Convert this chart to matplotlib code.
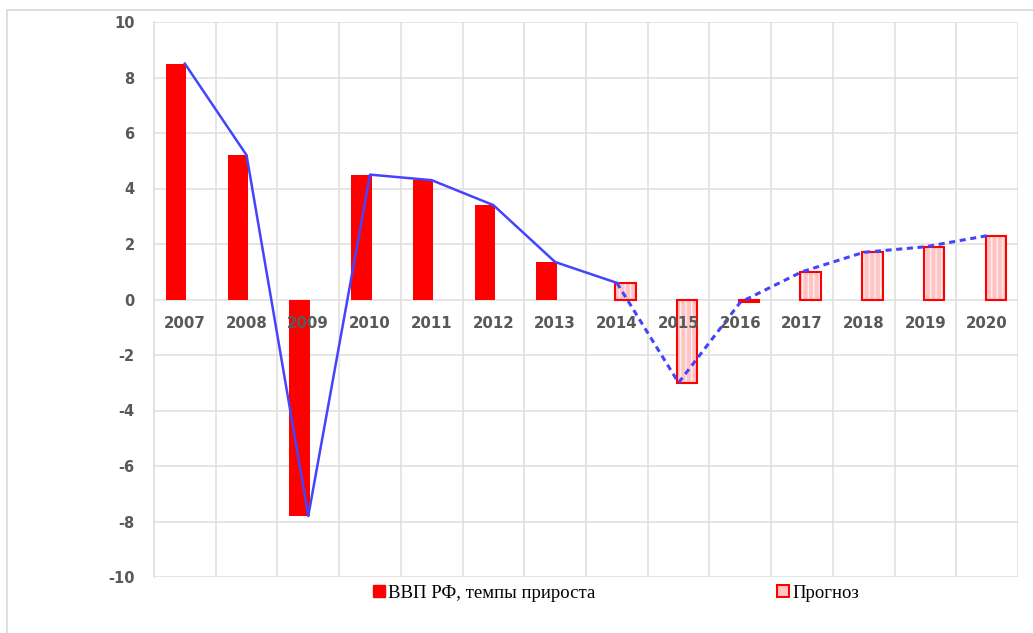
import numpy as np
import matplotlib
matplotlib.use("Agg")
import matplotlib.pyplot as plt
from matplotlib.patches import Rectangle, Patch

plt.rcParams["axes.unicode_minus"] = False

years = ["2007", "2008", "2009", "2010", "2011", "2012", "2013",
         "2014", "2015", "2016", "2017", "2018", "2019", "2020"]
actual = [8.5, 5.2, -7.8, 4.5, 4.3, 3.4, 1.35,
          np.nan, np.nan, np.nan, np.nan, np.nan, np.nan, np.nan]
forecast = [np.nan, np.nan, np.nan, np.nan, np.nan, np.nan, np.nan,
            0.6, -3.0, -0.1, 1.0, 1.7, 1.9, 2.3]
trend = [8.5, 5.2, -7.8, 4.5, 4.3, 3.4, 1.35, 0.6, -3.0, -0.1, 1.0, 1.7, 1.9, 2.3]
split = 7  # index where the forecast (dashed) part of the line begins

fig = plt.figure(figsize=(10.33, 6.33), dpi=100)
ax = fig.add_axes([154/1033, 1-577/633, (1018-154)/1033, (577-22)/633])

x = np.arange(len(years))
bw = 0.33
off = 0.14

ax.bar(x - off, actual, width=bw, color="#ff0000", zorder=3)
ax.bar(x + off, forecast, width=bw, facecolor="#ffc4c4", edgecolor="#ffeeee",
       hatch="|||", linewidth=0, zorder=3)
ax.bar(x + off, forecast, width=bw, fill=False, edgecolor="#ff0000",
       linewidth=1.5, zorder=4)

ax.plot(x[:split + 1], trend[:split + 1], color="#4444ff", lw=1.8, zorder=5)
ax.plot(x[split:], trend[split:], color="#4444ff", lw=2.2,
        linestyle=(0, (2, 1.5)), zorder=5)

ax.set_xlim(-0.5, len(years) - 0.5)
ax.set_ylim(-10, 10)
ax.set_yticks(np.arange(-10, 11, 2))
ax.set_xticks(x)
ax.set_xticklabels(years)

# category boundary gridlines (behind bars)
ax.vlines(np.append(x - 0.5, x[-1] + 0.5), -10, 10, color="#e0e0e0", lw=1.2, zorder=0)
ax.grid(True, axis="y", which="major", color="#e0e0e0", lw=1.2, zorder=0)
ax.grid(False, axis="x")
ax.yaxis.set_zorder(0)
ax.xaxis.set_zorder(10)

for s in ["top", "right"]:
    ax.spines[s].set_visible(False)
ax.spines["left"].set_color("#e0e0e0")
ax.spines["left"].set_linewidth(1.2)
ax.spines["left"].set_zorder(0)
ax.spines["bottom"].set_position(("data", 0))
ax.spines["bottom"].set_visible(False)

ax.tick_params(axis="both", which="both", length=0)
ax.tick_params(axis="x", pad=12)
ax.tick_params(axis="y", pad=14)
for lab in ax.get_xticklabels():
    lab.set_fontsize(10.8)
for lab in ax.get_yticklabels():
    lab.set_fontsize(10.5)
for lab in ax.get_xticklabels() + ax.get_yticklabels():
    lab.set_fontweight("bold")
    lab.set_color("#595959")
    lab.set_family("DejaVu Sans")

# outer frame
fig.patches.append(Rectangle((7/1033, -0.1), 1.2, 1 - 10/633 + 0.1,
                             transform=fig.transFigure, fill=False,
                             edgecolor="#d9d9d9", lw=1.2))

handles = [Patch(facecolor="#ff0000", edgecolor="#ff0000"),
           Patch(facecolor="#ffc4c4", edgecolor="#ff0000", lw=1.5)]
fig.legend(handles, ["ВВП РФ, темпы прироста", "Прогноз"], ncol=2,
           loc="center left", bbox_to_anchor=(373/1033, 1-593/633),
           frameon=False, handlelength=0.65, handleheight=0.65,
           handletextpad=0.15, columnspacing=9.7, borderaxespad=0,
           borderpad=0,
           prop={"family": "Liberation Serif", "size": 13.5})

fig.savefig("out.png", dpi=100)
